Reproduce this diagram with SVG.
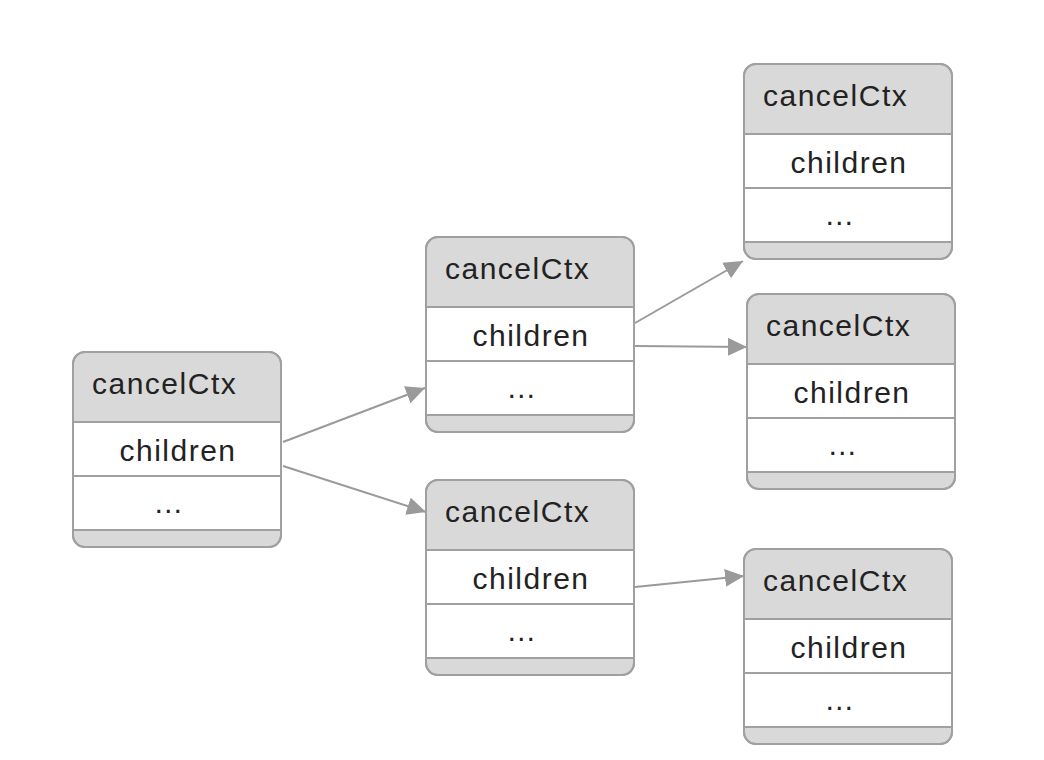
<svg xmlns="http://www.w3.org/2000/svg" width="1044" height="760" viewBox="0 0 1044 760">
  <defs>
    <style>
      .box { fill: #d9d9d9; stroke: #a0a0a0; stroke-width: 2; }
      .row { fill: #ffffff; }
      .sep { stroke: #a0a0a0; stroke-width: 2; }
      .border { fill: none; stroke: #a0a0a0; stroke-width: 2; }
      .t { font-family: "Liberation Sans", Arial, sans-serif; font-size: 30px; fill: #222222; letter-spacing: 1.5px; }
      .conn { stroke: #9a9a9a; stroke-width: 2; fill: none; marker-end: url(#arrow); }
    </style>
    <marker id="arrow" markerUnits="userSpaceOnUse" markerWidth="20" markerHeight="20" refX="19" refY="9" orient="auto">
      <path d="M0,0 L19,9 L0,18 z" fill="#9a9a9a"/>
    </marker>
    <g id="node">
      <rect class="box" x="0" y="0" width="208" height="195" rx="12" ry="12"/>
      <rect class="row" x="1" y="70" width="206" height="108"/>
      <line class="sep" x1="0" y1="70" x2="208" y2="70"/>
      <line class="sep" x1="0" y1="124" x2="208" y2="124"/>
      <line class="sep" x1="0" y1="178" x2="208" y2="178"/>
      <rect class="border" x="0" y="0" width="208" height="195" rx="12" ry="12"/>
      <text class="t" x="19" y="42">cancelCtx</text>
      <text class="t" x="105" y="109" text-anchor="middle">children</text>
      <text class="t" x="96" y="161" text-anchor="middle">…</text>
    </g>
  </defs>
  <rect x="0" y="0" width="1044" height="760" fill="#ffffff"/>

  <g id="connectors">
    <line class="conn" x1="283" y1="442" x2="425" y2="388"/>
    <line class="conn" x1="283" y1="466" x2="426" y2="512"/>
    <line class="conn" x1="635" y1="323" x2="743" y2="261"/>
    <line class="conn" x1="635" y1="346" x2="747" y2="347"/>
    <line class="conn" x1="635" y1="587" x2="744" y2="576"/>
  </g>

  <g id="node-root" transform="translate(73,352)"><use href="#node"/></g>
  <g id="node-mid-top" transform="translate(426,237)"><use href="#node"/></g>
  <g id="node-mid-bottom" transform="translate(426,480)"><use href="#node"/></g>
  <g id="node-right-1" transform="translate(744,64)"><use href="#node"/></g>
  <g id="node-right-2" transform="translate(747,294)"><use href="#node"/></g>
  <g id="node-right-3" transform="translate(744,549)"><use href="#node"/></g>
</svg>
